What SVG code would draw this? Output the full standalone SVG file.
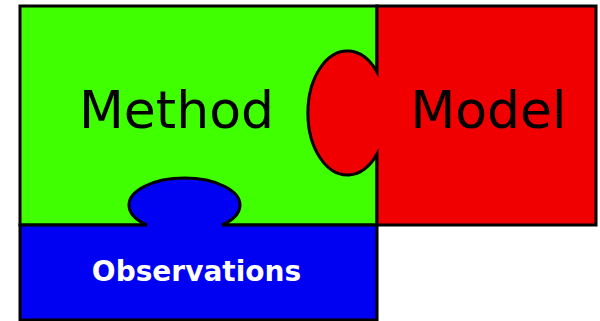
<svg xmlns="http://www.w3.org/2000/svg" width="600" height="321" viewBox="0 0 600 321">
  <style>
    .piece { stroke: #000; stroke-width: 3; stroke-linejoin: miter; }
    .label { font-family: "DejaVu Sans", "Liberation Sans", sans-serif; text-anchor: middle; }
    .big { font-size: 52px; fill: #000; }
    .small { font-size: 28px; font-weight: bold; fill: #fff; }
  </style>
  <rect width="600" height="321" fill="#fff"/>

  <!-- Method: green base piece -->
  <g id="method">
    <rect class="piece" x="20" y="6" width="357" height="219" fill="#40ff00"/>
    <text class="label big" x="176.5" y="128">Method</text>
  </g>

  <!-- Model: red piece with a tab pushing into Method -->
  <g id="model">
    <path class="piece" fill="#f00000" d="M377,6 H596 V225 H377 V154 A39.5,62 0 1 1 377,72 Z"/>
    <text class="label big" x="488.5" y="128">Model</text>
  </g>

  <!-- Observations: blue piece with a tab pushing up into Method -->
  <g id="observations">
    <path class="piece" fill="#0000f2" d="M20,225 H147 A55.5,27 0 1 1 222,225 H377 V320 H20 Z"/>
    <text class="label small" x="196.5" y="281">Observations</text>
  </g>

  <g id="connectors"/>
</svg>
